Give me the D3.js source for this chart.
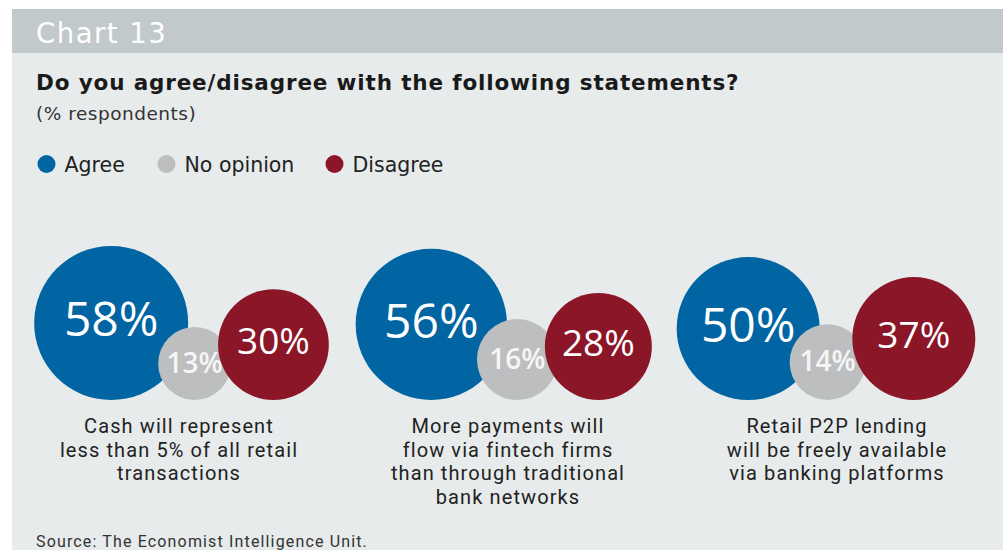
<!DOCTYPE html>
<html>
<head>
<meta charset="utf-8">
<script src="https://cdn.jsdelivr.net/npm/d3@7"></script>
<style>
  html, body { margin: 0; padding: 0; background: #ffffff; }
  svg { display: block; }
</style>
</head>
<body>
<svg id="chart" width="1003" height="550"></svg>
<script>
// ---- data ----
const chartLabel = "Chart 13";
const title = "Do you agree/disagree with the following statements?";
const subtitle = "(% respondents)";
const seriesNames = ["Agree", "No opinion", "Disagree"];
const statements = [
  ["Cash will represent", "less than 5% of all retail", "transactions"],
  ["More payments will", "flow via fintech firms", "than through traditional", "bank networks"],
  ["Retail P2P lending", "will be freely available", "via banking platforms"]
];
const agree = [58, 56, 50];
const noOpinion = [13, 16, 14];
const disagree = [30, 28, 37];
const source = "Source: The Economist Intelligence Unit.";

// ---- styles ----
const colors = ["#0065a2", "#bdbec0", "#8b1627"];
const valueFont = [48, 28, 37];
const W = 1003, H = 550;
const headFont = "DejaVu Sans, sans-serif";

const svg = d3.select("#chart");

// panel
svg.append("rect").attr("x", 12).attr("y", 9).attr("width", W - 12).attr("height", H - 9).attr("fill", "#e7ebeb");
svg.append("rect").attr("x", 12).attr("y", 9).attr("width", W - 12).attr("height", 44).attr("fill", "#c2c9ca");
svg.append("text").attr("x", 36).attr("y", 43).text(chartLabel)
  .attr("fill", "#ffffff").attr("font-family", headFont).attr("font-size", 27.5).attr("letter-spacing", 1.5);

svg.append("text").attr("x", 36).attr("y", 90).text(title)
  .attr("fill", "#1a1a1a").attr("font-family", headFont).attr("font-weight", 700).attr("font-size", 21.5)
  .attr("letter-spacing", 0.85);
svg.append("text").attr("x", 36).attr("y", 120).text(subtitle)
  .attr("fill", "#333").attr("font-family", headFont).attr("font-size", 18.5).attr("letter-spacing", 0.5);

// legend
const legendX = [46.5, 166.5, 334.5];
const lg = svg.append("g");
seriesNames.forEach((n, i) => {
  lg.append("circle").attr("cx", legendX[i]).attr("cy", 164).attr("r", 9).attr("fill", colors[i]);
  lg.append("text").attr("x", legendX[i] + 18).attr("y", 171.5).text(n)
    .attr("fill", "#222").attr("font-family", headFont).attr("font-size", 20.5);
});

// scales
const r = d3.scaleSqrt().domain([0, 100]).range([0, 101.1]);
const groupX = d3.scalePoint().domain(d3.range(statements.length)).range([181.5, 826]);
const labelX = d3.scalePoint().domain(d3.range(statements.length)).range([179, 837]);
const baseY = 400;
const overlapBG = 30, overlapGR = 13;

const rows = statements.map((s, i) => ({ i, vals: [agree[i], noOpinion[i], disagree[i]] }));

rows.forEach(row => {
  const rr = row.vals.map(v => r(v));
  const width = 2 * rr[0] + 2 * rr[1] + 2 * rr[2] - overlapBG - overlapGR;
  const left = groupX(row.i) - width / 2;
  const cx0 = left + rr[0];
  const cx1 = cx0 + rr[0] + rr[1] - overlapBG;
  const cx2 = cx1 + rr[1] + rr[2] - overlapGR;
  const cxs = [cx0, cx1, cx2];
  const g = svg.append("g");
  row.vals.forEach((v, k) => {
    const cy = baseY - rr[k];
    g.append("circle").attr("cx", cxs[k]).attr("cy", cy).attr("r", rr[k]).attr("fill", colors[k]);
    g.append("text").attr("x", cxs[k]).attr("y", cy + (k === 1 ? -1 : -4)).attr("dy", "0.36em")
      .attr("text-anchor", "middle").text(v + "%")
      .attr("fill", k === 1 ? "#f6f6f6" : "#ffffff")
      .attr("font-family", "Open Sans, sans-serif").attr("font-weight", k === 1 ? 600 : 500)
      .attr("font-size", valueFont[k]);
  });
  const t = svg.append("text").attr("text-anchor", "middle")
    .attr("fill", "#222").attr("font-family", "Roboto, sans-serif").attr("font-size", 20)
    .attr("letter-spacing", 1.1);
  statements[row.i].forEach((line, j) => {
    t.append("tspan").attr("x", labelX(row.i)).attr("y", 433 + j * 23.7).text(line);
  });
});

svg.append("text").attr("x", 36).attr("y", 547).text(source)
  .attr("fill", "#333").attr("font-family", "Roboto, sans-serif").attr("font-size", 16)
  .attr("letter-spacing", 1.15);
</script>
</body>
</html>
